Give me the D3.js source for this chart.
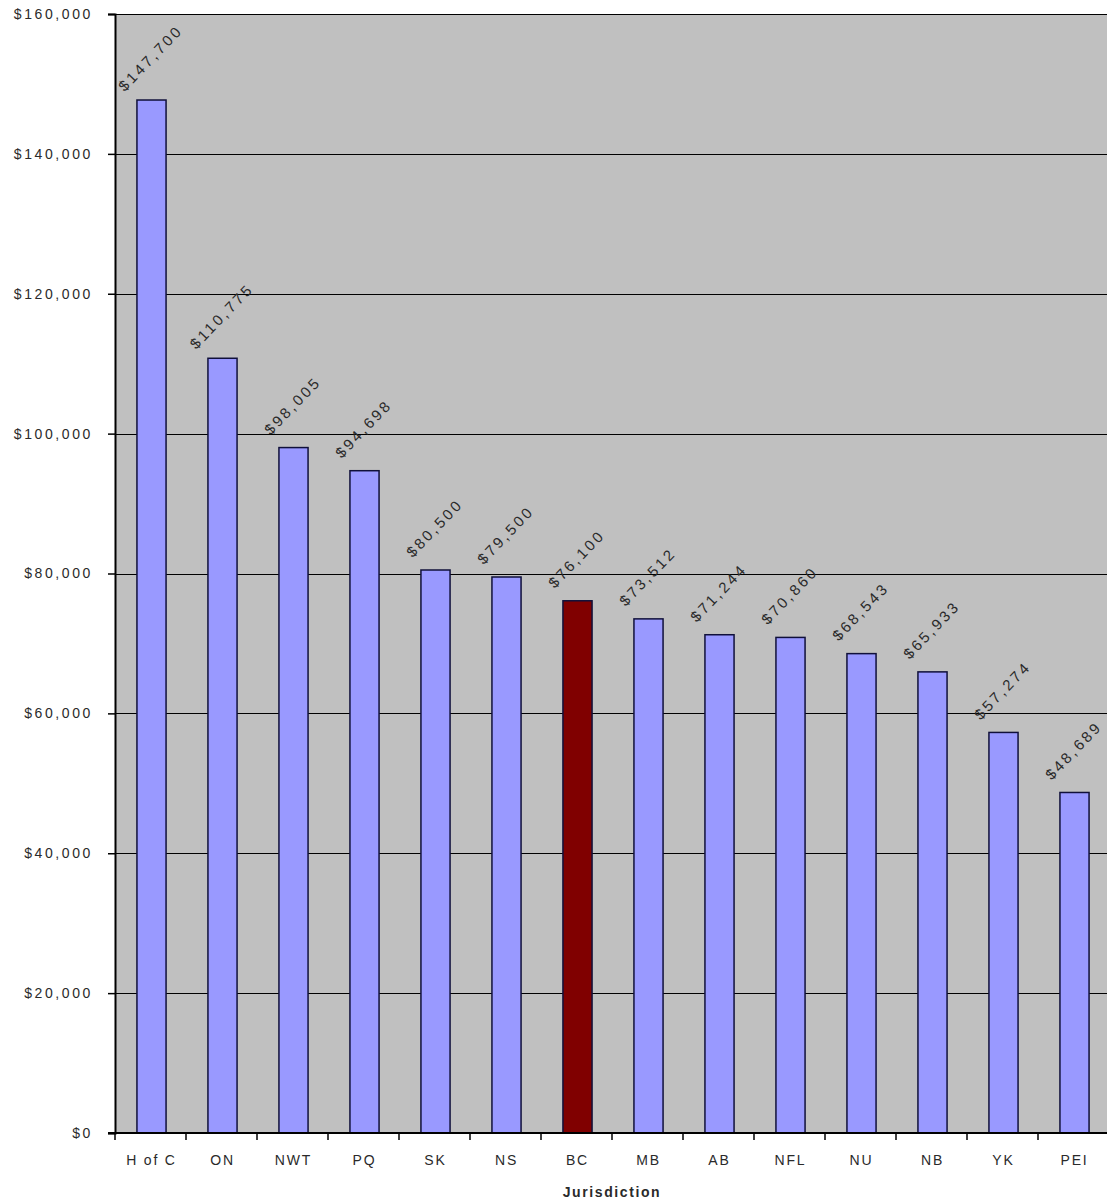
<!DOCTYPE html>
<html lang="en">
<head>
    <meta charset="UTF-8">
    <title>Jurisdiction</title>
    <style>
        body {
            margin: 0;
            padding: 0;
            background-color: white;
        }

        .tick text,
        .value-label,
        .x-label {
            font-family: Arial, "Liberation Sans", sans-serif;
            fill: #2a2a2a;
        }
    </style>
</head>
<body>
    <div id="chart"></div>
    <script src="https://cdn.jsdelivr.net/npm/d3@7"></script>
    <script>

        // data
        const categories = ["H of C", "ON", "NWT", "PQ", "SK", "NS", "BC", "MB", "AB", "NFL", "NU", "NB", "YK", "PEI"];
        const salaries = [147700, 110775, 98005, 94698, 80500, 79500, 76100, 73512, 71244, 70860, 68543, 65933, 57274, 48689];
        const valueLabels = ["$147,700", "$110,775", "$98,005", "$94,698", "$80,500", "$79,500", "$76,100", "$73,512", "$71,244", "$70,860", "$68,543", "$65,933", "$57,274", "$48,689"];
        const yTicks = [0, 20000, 40000, 60000, 80000, 100000, 120000, 140000, 160000];
        const highlight = "BC";

        const w = 1107;
        const h = 1203;
        const plotLeft = 115, plotRight = 1109, plotTop = 14, plotBottom = 1133;

        const svg = d3.select("#chart")
            .append("svg")
            .attr("width", w)
            .attr("height", h)
            .style("display", "block");

        const x = d3.scaleBand()
            .domain(categories)
            .range([plotLeft, plotRight])
            .padding(0);

        const y = d3.scaleLinear()
            .domain([0, 160000])
            .range([plotBottom, plotTop]);

        // plot background
        svg.append("rect")
            .attr("x", plotLeft)
            .attr("y", plotTop)
            .attr("width", plotRight - plotLeft)
            .attr("height", plotBottom - plotTop)
            .attr("fill", "#c0c0c0");

        // gridlines
        svg.append("g")
            .selectAll("line")
            .data(yTicks.filter(d => d > 0))
            .enter()
            .append("line")
            .attr("x1", plotLeft)
            .attr("x2", plotRight)
            .attr("y1", d => Math.round(y(d)) + 0.5)
            .attr("y2", d => Math.round(y(d)) + 0.5)
            .attr("stroke", "#000")
            .attr("stroke-width", 1.2);

        // bars
        const barW = x.bandwidth() * 0.41;
        const data = categories.map((c, i) => ({ name: c, value: salaries[i], label: valueLabels[i] }));

        svg.append("g")
            .selectAll("rect")
            .data(data)
            .enter()
            .append("rect")
            .attr("x", d => x(d.name) + (x.bandwidth() - barW) / 2 + 1)
            .attr("y", d => y(d.value))
            .attr("width", barW)
            .attr("height", d => plotBottom - y(d.value))
            .attr("fill", d => d.name === highlight ? "#800000" : "#9999ff")
            .attr("stroke", "#10103a")
            .attr("stroke-width", 1.5);

        // value labels, rotated
        svg.append("g")
            .selectAll("text")
            .data(data)
            .enter()
            .append("text")
            .attr("class", "value-label")
            .attr("transform", d => `translate(${x(d.name) + x.bandwidth() / 2}, ${y(d.value) - 42}) rotate(-46)`)
            .attr("text-anchor", "middle")
            .attr("dy", "0.35em")
            .style("font-size", "15px")
            .style("letter-spacing", "2.8px")
            .text(d => d.label);

        // y axis
        const yAxis = d3.axisLeft(y)
            .tickValues(yTicks)
            .tickFormat(d3.format("$,"))
            .tickSize(7)
            .tickPadding(15);

        svg.append("g")
            .attr("transform", `translate(${plotLeft}, 0)`)
            .call(yAxis)
            .call(g => g.select(".domain").attr("stroke-width", 2))
            .call(g => g.selectAll(".tick line").attr("stroke-width", 1.5))
            .call(g => g.selectAll(".tick text")
                .style("font-size", "14px")
                .style("letter-spacing", "2.6px"));

        // x axis line + ticks at category boundaries
        svg.append("line")
            .attr("x1", plotLeft - 7)
            .attr("x2", plotRight)
            .attr("y1", plotBottom)
            .attr("y2", plotBottom)
            .attr("stroke", "#000")
            .attr("stroke-width", 2);

        svg.append("g")
            .selectAll("line")
            .data(categories)
            .enter()
            .append("line")
            .attr("x1", d => x(d))
            .attr("x2", d => x(d))
            .attr("y1", plotBottom)
            .attr("y2", plotBottom + 7)
            .attr("stroke", "#000")
            .attr("stroke-width", 1.5);

        svg.append("g")
            .selectAll("text")
            .data(categories)
            .enter()
            .append("text")
            .attr("class", "x-label")
            .attr("x", d => x(d) + x.bandwidth() / 2 + 1)
            .attr("y", plotBottom + 32)
            .attr("text-anchor", "middle")
            .style("font-size", "14px")
            .style("letter-spacing", "1.8px")
            .text(d => d);

        svg.append("text")
            .attr("class", "x-label")
            .attr("x", (plotLeft + plotRight) / 2)
            .attr("y", plotBottom + 64)
            .attr("text-anchor", "middle")
            .style("font-size", "14px")
            .style("font-weight", "bold")
            .style("letter-spacing", "1.6px")
            .text("Jurisdiction");

    </script>
</body>
</html>
